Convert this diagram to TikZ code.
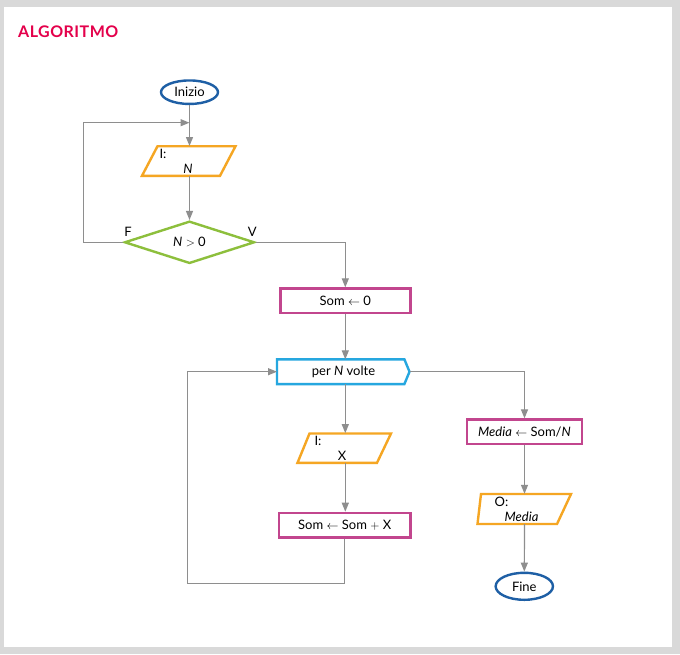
\documentclass[tikz,border=0pt]{standalone}
\usepackage{fontspec}
\setmainfont{Lato}
\usetikzlibrary{arrows.meta,shapes.geometric}
\definecolor{titlered}{HTML}{E4004B}
\definecolor{termblue}{HTML}{1E5FA5}
\definecolor{ioorange}{HTML}{F5A623}
\definecolor{decgreen}{HTML}{8DBF3C}
\definecolor{procmag}{HTML}{C2468E}
\definecolor{loopcyan}{HTML}{26A7DF}
\definecolor{linegray}{HTML}{8E8E8E}
\definecolor{framegray}{HTML}{D9D9D9}
\tikzset{
  conn/.style={draw=linegray, line width=1.2pt},
  arr/.style={conn, -{Triangle[length=9pt,width=7pt]}},
  term/.style={ellipse, draw=termblue, line width=2.4pt, inner sep=0pt, font=\fontsize{13}{15}\selectfont},
  proc/.style={rectangle, draw=procmag, line width=2.4pt, inner sep=0pt, font=\fontsize{13}{15}\selectfont},
  iobox/.style={draw=ioorange, line width=2.4pt, line join=miter},
  anchorbox/.style={rectangle, inner sep=0pt},
  txt/.style={inner sep=0pt, font=\fontsize{13}{15}\selectfont},
}
\begin{document}
\begin{tikzpicture}[x=1pt,y=-1pt]
\useasboundingbox (0,0) rectangle (680,654);
% frame
\fill[framegray] (0,0) rectangle (680,654);
\fill[white] (4,7) rectangle (672,647);
% title
\node[anchor=west, inner sep=0pt, text=titlered, font=\fontsize{16}{18}\selectfont\bfseries\addfontfeatures{LetterSpace=3}] (title) at (18,31.5) {ALGORITMO};

% Start
\node[term, minimum width=57pt, minimum height=23.5pt] (inizio) at (189.5,92.2) {Inizio};
% Input N
\node[anchorbox, minimum width=93.5pt, minimum height=29.6pt] (in1) at (188.75,161) {};
\draw[iobox] (157.5,146.2) -- (235.5,146.2) -- (220,175.8) -- (142,175.8) -- cycle;
\node[txt] (in1a) at (163,154) {I:};
\node[txt] (in1b) at (188,169) {\textit{N}};
% Decision
\node[diamond, draw=decgreen, line width=2.4pt, minimum width=130pt, minimum height=37pt, inner sep=0pt, font=\fontsize{13}{15}\selectfont] (dia) at (189.5,242.3) {\textit{N} $>$ 0};
\node[txt, anchor=south] (flab) at (128,237) {F};
\node[txt, anchor=south] (vlab) at (252.3,237) {V};
% Som <- 0
\node[proc, minimum width=130pt, minimum height=24.3pt] (som0) at (345.3,300.7) {Som $\leftarrow$ 0};
% per N volte
\node[anchorbox, minimum width=127pt, minimum height=24.3pt] (perN) at (340.7,371.7) {};
\coordinate (perNtip) at (409.5,371.7);
\draw[draw=loopcyan, line width=2.4pt, line join=miter] (perN.north west) -- (perN.north east) -- (perNtip) -- (perN.south east) -- (perN.south west) -- cycle;
\node[txt] (perNt) at (343.5,372) {per \textit{N} volte};
% Input X
\node[anchorbox, minimum width=93.5pt, minimum height=29.3pt] (inX) at (344.3,448) {};
\draw[iobox] (309.5,433.5) -- (391,433.5) -- (377,462.8) -- (297.5,462.8) -- cycle;
\node[txt] (inXa) at (318,441) {I:};
\node[txt] (inXb) at (342,455.5) {X};
% Som <- Som + X
\node[proc, minimum width=131.6pt, minimum height=24.6pt] (sumX) at (344.7,525.2) {Som $\leftarrow$ Som $+$ X};
% Media <- Som/N
\node[proc, minimum width=115pt, minimum height=24.3pt] (media) at (524.5,431.7) {\textit{Media} $\leftarrow$ Som/\textit{N}};
% Output Media
\node[anchorbox, minimum width=93.5pt, minimum height=30pt] (outM) at (524.3,509) {};
\draw[iobox] (481,494) -- (571,494) -- (557,524) -- (477.5,524) -- cycle;
\node[txt] (outMa) at (501.5,502) {O:};
\node[txt] (outMb) at (521.5,516.5) {\textit{Media}};
% End
\node[term, minimum width=57.3pt, minimum height=27pt] (fine) at (524.3,586.3) {Fine};

% junctions
\coordinate (j1) at (189.5,122.7);
\coordinate (loopL) at (83.3,122.7);
\coordinate (loopB) at (187.3,583.3);

% connectors
\draw[arr] (inizio.south) -- (inizio.south |- in1.north);
\draw[arr] (dia.west) -| (loopL) -- (j1);
\draw[arr] (inizio.south |- in1.south) -- (dia.north);
\draw[arr] (dia.east) -| (som0.north);
\draw[arr] (som0.south) -- (som0.south |- perN.north);
\draw[arr] (som0.south |- perN.south) -- (som0.south |- inX.north);
\draw[arr] (som0.south |- inX.south) -- (som0.south |- sumX.north);
\draw[arr] (sumX.south) |- (loopB) |- (perN.west);
\draw[arr] (perNtip) -| (media.north);
\draw[arr] (media.south) -- (media.south |- outM.north);
\draw[arr] (media.south |- outM.south) -- (fine.north);
\end{tikzpicture}
\end{document}
